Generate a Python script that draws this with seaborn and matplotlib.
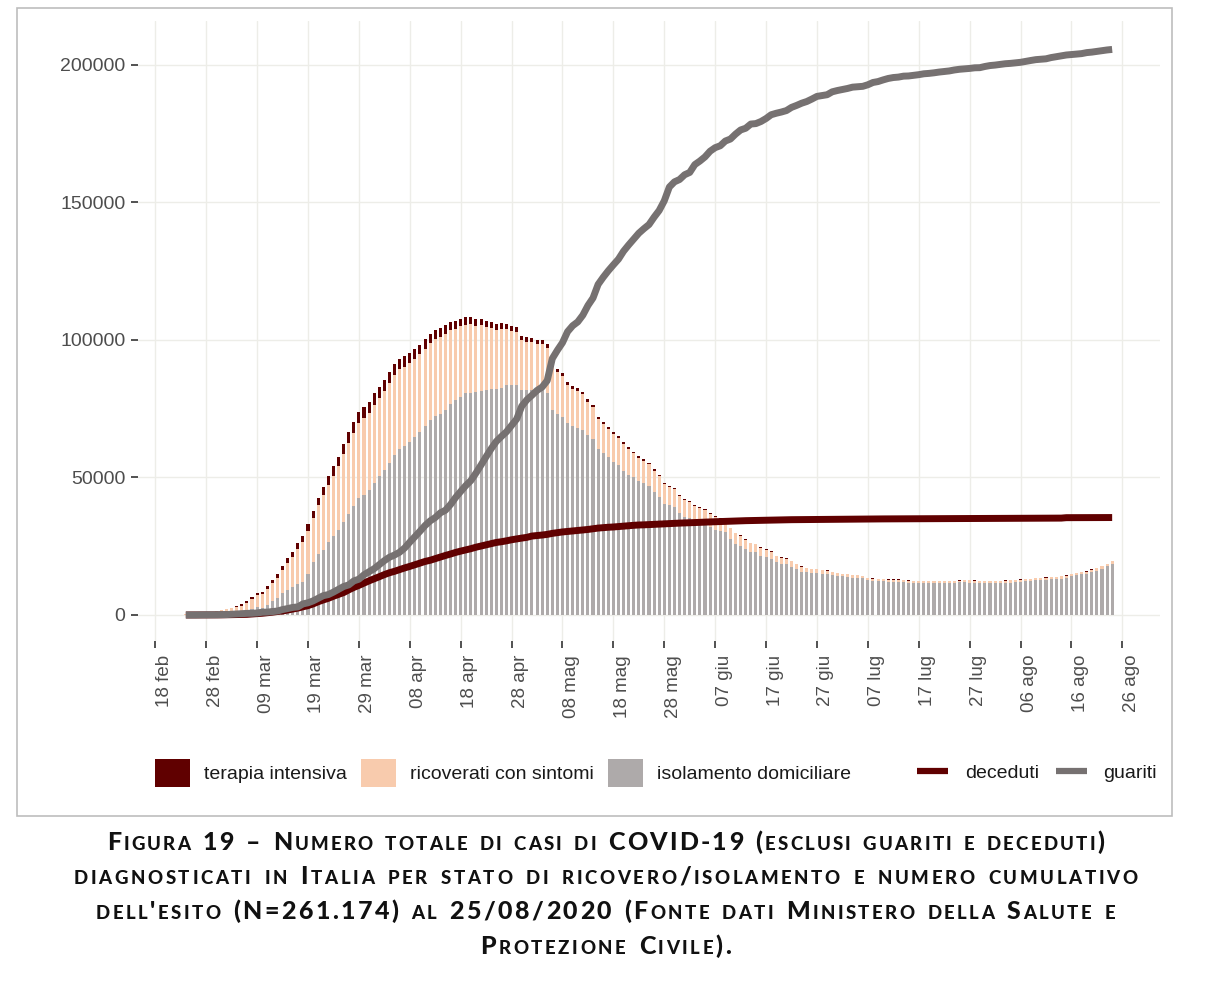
import numpy as np
import pandas as pd
import matplotlib
matplotlib.use("Agg")
import matplotlib.pyplot as plt
import matplotlib.dates as mdates
import matplotlib.transforms as mtransforms
from matplotlib.patches import Patch, Rectangle
from matplotlib.lines import Line2D
import seaborn as sns

# giorni: 24 feb -> 24 ago 2020
first_day = "2020-02-24"
last_day = "2020-08-24"

terapia_intensiva = [
    26, 35, 36, 56, 64, 105,
    140, 166, 229, 295, 351, 462, 567, 650, 733, 877, 1028, 1153, 1328, 1518, 1672, 1851, 2060, 2257, 2498, 2655,
    2857, 3009, 3204, 3396, 3489, 3612, 3732, 3856, 3906, 3981, 4023,
    4035, 4053, 4068, 3994, 3977, 3898, 3792, 3693, 3605, 3497, 3381, 3343, 3260, 3186, 3079, 2936, 2812, 2733, 2635,
    2573, 2471, 2384, 2267, 2173, 2102, 2009, 1956, 1863, 1795, 1694,
    1578, 1539, 1501, 1479, 1427, 1333, 1311, 1168, 1034, 1027, 999, 952, 893, 855, 808, 775, 762, 749, 716, 676,
    640, 595, 572, 553, 541, 521, 505, 489, 450, 435, 424,
    408, 353, 338, 316, 293, 287, 283, 263, 249, 236, 227, 220, 209, 207, 168, 163, 152, 148, 143, 127,
    115, 107, 103, 97, 94, 87, 79, 76, 77, 71,
    82, 77, 71, 72, 69, 68, 71, 69, 65, 64, 65, 65, 60, 57, 57, 56, 54, 54, 49, 48,
    49, 48, 49, 44, 41, 45, 46, 41, 40, 41, 41,
    42, 42, 41, 41, 43, 45, 49, 44, 42, 45, 48, 49, 55, 56, 55, 58, 56, 57, 58, 66, 68, 69, 65, 64,
]
ricoverati_con_sintomi = [
    101, 114, 128, 248, 345, 401,
    639, 742, 1034, 1346, 1790, 2394, 2651, 3557, 4316, 5038, 5838, 6650, 7426, 8372, 9663, 11025, 12894, 14363,
    15757, 16020, 17708, 19846, 20692, 21937, 23112, 24753, 26029, 26676, 27386, 27795, 28192,
    28403, 28540, 28741, 29010, 28949, 28976, 28718, 28485, 28399, 28242, 28144, 27847, 28023, 28011, 27643, 26893,
    26033, 25786, 25007, 24906, 24134, 23805, 22871, 22068, 21533, 21372, 20353, 19723, 19210, 18149,
    17569, 17357, 17242, 16823, 16270, 15769, 15174, 14636, 13834, 13618, 13539, 12865, 12172, 11453, 10792, 10400,
    10311, 10207, 9991, 9624, 9269, 8695, 8613, 8185, 7917, 7729, 7379, 7094, 6680, 6387, 6099,
    5916, 5742, 5301, 5002, 4864, 4729, 4581, 4320, 4131, 3893, 3747, 3594, 3301, 3110, 2974, 2800, 2657, 2474,
    2282, 2159, 2060, 1967, 1877, 1744, 1532, 1515, 1414, 1358, 1177, 1090,
    1025, 979, 956, 938, 925, 895, 889, 856, 833, 804, 801, 790, 774, 765, 756, 743, 729, 718, 731, 734,
    748, 749, 750, 736, 714, 713, 746, 747, 745, 718, 723,
    732, 738, 749, 793, 784, 794, 808, 790, 779, 796, 801, 822, 843, 828, 787, 764, 794, 811, 843, 866,
    897, 926, 941, 988,
]
isolamento_domiciliare = [
    94, 162, 221, 284, 412, 543,
    798, 927, 1000, 1065, 1155, 1060, 1843, 2180, 2936, 2599, 3724, 5036, 6201, 7860, 9268, 10197, 11108, 12090,
    14935, 19185, 22116, 23783, 26522, 28697, 30920, 33648, 36653, 39533, 42588, 43752, 45420,
    48134, 50456, 52579, 55270, 58320, 60313, 61557, 63084, 64873, 66534, 68744, 71063, 72333, 73094, 74696, 76778,
    78117, 79252, 80615, 80758, 81104, 81510, 81710, 82286, 82212, 82722, 83504, 83619, 83652, 81708,
    81796, 81808, 81436, 81678, 80770, 74426, 73139, 72157, 69974, 68679, 67950, 67449, 65392, 64132, 60470, 59012,
    57278, 55597, 54422, 52452, 51051, 50032, 48567, 47856, 46842, 44692, 43082, 40403, 39887, 39353, 37168,
    35751, 35272, 34254, 33979, 33272, 31960, 31013, 30679, 30350, 27581, 25899, 25183, 23975, 22957, 22767, 21606,
    21116, 20479, 19118, 18686, 18462, 17499, 16675, 15797, 15622, 15234, 15188, 15062, 14994, 14402,
    14148, 14004, 13857, 13632, 13627, 13279, 12635, 12378, 12281, 12289, 12053, 12087, 12085, 11915, 11768, 11657,
    11710, 11632, 11588, 11466, 11504, 11525, 11643, 11702, 11826, 11858, 11817, 11793, 11619, 11697, 11658,
    11683, 11702, 11775, 11782, 11903, 12085, 12259, 12429, 12547, 12659, 12801, 12929, 13052, 13216, 13558, 14078,
    14450, 14732, 14949, 15668, 16135, 16805, 17694, 18548,
]
deceduti = [
    7, 10, 12, 17, 21, 29,
    34, 52, 79, 107, 148, 197, 233, 366, 463, 631, 827, 1016, 1266, 1441, 1809, 2158, 2503, 2978, 3405, 4032,
    4825, 5476, 6077, 6820, 7503, 8165, 9134, 10023, 10779, 11591, 12428,
    13155, 13915, 14681, 15362, 15887, 16523, 17127, 17669, 18279, 18849, 19468, 19899, 20465, 21067, 21645, 22170,
    22745, 23227, 23660, 24114, 24648, 25085, 25549, 25969, 26384, 26644, 26977, 27359, 27682, 27967,
    28236, 28710, 28884, 29079, 29315, 29684, 29958, 30201, 30395, 30560, 30739, 30911, 31106, 31368, 31610, 31763,
    31908, 32007, 32169, 32330, 32486, 32616, 32735, 32785, 32877, 32955, 33072, 33142, 33229, 33340, 33415,
    33475, 33530, 33601, 33689, 33774, 33846, 33899, 33964, 34043, 34114, 34167, 34223, 34301, 34345, 34371, 34405,
    34448, 34514, 34561, 34610, 34634, 34657, 34675, 34678, 34708, 34716, 34738, 34744, 34767, 34788,
    34818, 34833, 34854, 34861, 34869, 34899, 34914, 34926, 34938, 34945, 34954, 34967, 34984, 34997, 35017, 35028,
    35042, 35045, 35058, 35073, 35082, 35092, 35097, 35102, 35107, 35112, 35123, 35129, 35132, 35141, 35146,
    35154, 35166, 35171, 35181, 35187, 35190, 35203, 35205, 35209, 35215, 35225, 35231, 35234, 35234, 35392, 35396,
    35400, 35405, 35412, 35418, 35427, 35430, 35437, 35441,
]
guariti = [
    1, 1, 3, 45, 46, 50,
    83, 149, 160, 276, 414, 523, 589, 622, 724, 1004, 1045, 1258, 1439, 1966, 2335, 2749, 2941, 4025, 4440, 5129,
    6072, 7024, 7432, 8326, 9362, 10361, 10950, 12384, 13030, 14620, 15729,
    16847, 18278, 19758, 20996, 21815, 22837, 24392, 26491, 28470, 30455, 32534, 34211, 35435, 37130, 38092, 40164,
    42727, 44927, 47055, 48877, 51600, 54543, 57576, 60498, 63120, 64928, 66624, 68941, 71252, 75945,
    78249, 79914, 81654, 82879, 85231, 93245, 96276, 99023, 103031, 105186, 106587, 109039, 112541, 115288, 120205,
    122810, 125176, 127326, 129401, 132282, 134560, 136720, 138840, 140479, 141981, 144658, 147101, 150604, 155633,
    157507, 158355,
    160092, 160938, 163781, 165078, 166584, 168646, 169939, 170630, 172352, 173085, 174865, 176370, 177010, 178526,
    178695, 179455, 180544, 181907, 182453, 182893, 183426, 184585, 185306, 186111, 186725, 187615, 188584, 188891,
    189196, 190248,
    190717, 191083, 191467, 191944, 192108, 192241, 192815, 193640, 193978, 194579, 195106, 195441, 195603, 195945,
    196016, 196246, 196483, 196806, 196949, 197162, 197431, 197628, 197842, 198192, 198446, 198593, 198756, 198984,
    199031, 199460, 199796,
    199974, 200229, 200460, 200589, 200766, 200976, 201323, 201642, 201947, 202098, 202248, 202697, 203022, 203326,
    203640, 203786, 203968, 204142, 204506, 204686, 204960, 205203, 205470, 205662,
]

tick_labels = ["18 feb", "28 feb", "09 mar", "19 mar", "29 mar", "08 apr", "18 apr", "28 apr", "08 mag",
               "18 mag", "28 mag", "07 giu", "17 giu", "27 giu", "07 lug", "17 lug", "27 lug", "06 ago",
               "16 ago", "26 ago"]
y_ticks = [0, 50000, 100000, 150000, 200000]

stati = ["terapia intensiva", "ricoverati con sintomi", "isolamento domiciliare"]
esiti = ["deceduti", "guariti"]
colori_stati = ["#600000", "#F8CBAD", "#AEAAAA"]
colori_esiti = ["#600000", "#767171"]

caption_lines = [
    "Figura 19 – Numero totale di casi di COVID-19 (esclusi guariti e deceduti)",
    "diagnosticati in Italia per stato di ricovero/isolamento e numero cumulativo",
    "dell'esito (N=261.174) al 25/08/2020 (Fonte dati Ministero della Salute e",
    "Protezione Civile).",
]
caption_widths = [997, 1064, 1019, 251]

W, H = 1218, 992

giorni = mdates.date2num(pd.date_range(first_day, last_day, freq="D"))
tick_pos = mdates.date2num(pd.date_range("2020-02-18", periods=len(tick_labels), freq="10D"))

bars = pd.DataFrame({
    "giorno": np.tile(giorni, 3),
    "stato": np.repeat(stati, len(giorni)),
    "casi": np.concatenate([terapia_intensiva, ricoverati_con_sintomi, isolamento_domiciliare]),
})
lines = pd.DataFrame({
    "giorno": np.tile(giorni, 2),
    "esito": np.repeat(esiti, len(giorni)),
    "casi": np.concatenate([deceduti, guariti]),
})

sns.set_theme(style="white")
plt.rcParams["font.family"] = ["Liberation Sans", "DejaVu Sans"]

fig = plt.figure(figsize=(W / 100, H / 100), dpi=100)
ax = fig.add_axes([138 / W, 1 - 641 / H, (1160 - 138) / W, (641 - 21) / H])

sns.histplot(data=bars, x="giorno", weights="casi", hue="stato", hue_order=stati,
             palette=colori_stati, multiple="stack", discrete=True, shrink=0.6,
             alpha=1, linewidth=0, legend=False, ax=ax)
sns.lineplot(data=lines, x="giorno", y="casi", hue="esito", hue_order=esiti,
             palette=colori_esiti, linewidth=5, solid_capstyle="butt", legend=False, ax=ax)

ax.set_xlim(tick_pos[0] - 3.4, tick_pos[0] + 197.4)
ax.set_ylim(-9455, 216000)
ax.set_xlabel("")
ax.set_ylabel("")
ax.set_axisbelow(True)
ax.grid(True, color="#EDEDE8", linewidth=1)
for s in ax.spines.values():
    s.set_visible(False)

ax.set_xticks(tick_pos, labels=tick_labels, rotation=90)
ax.set_yticks(y_ticks, labels=[str(v) for v in y_ticks])
ax.tick_params(axis="both", length=5, width=1.2, color="#333333", labelcolor="#4D4D4D", bottom=True, left=True)
ax.tick_params(axis="x", labelsize=13.5, pad=5)
ax.tick_params(axis="y", labelsize=14, pad=4)
shift = mtransforms.ScaledTranslation(9 / 100, 0, fig.dpi_scale_trans)
for lab in ax.get_xticklabels():
    lab.set_transform(lab.get_transform() + shift)

# legende
fill_handles = [Patch(facecolor=c, edgecolor="none") for c in colori_stati]
fig.legend(fill_handles, stati, loc="center", bbox_to_anchor=(503 / W, 1 - 773 / H), ncol=3,
           frameon=False, fontsize=14, handlelength=1.8, handleheight=1.8,
           handletextpad=0.75, columnspacing=0.7, labelcolor="#1A1A1A")
line_handles = [Line2D([], [], color=c, lw=4.5, solid_capstyle="butt") for c in colori_esiti]
fig.legend(line_handles, esiti, loc="center", bbox_to_anchor=(1037 / W, 1 - 773 / H), ncol=2,
           frameon=False, fontsize=14, handlelength=1.6, handletextpad=0.85,
           columnspacing=0.85, labelcolor="#1A1A1A")

fig.add_artist(Rectangle((17 / W, 1 - 816 / H), (1172 - 17) / W, (816 - 8) / H,
                         transform=fig.transFigure, fill=False, edgecolor="#BDBDBD", lw=1.2))

# didascalia in maiuscoletto, lettera per lettera per avere la larghezza giusta
renderer = fig.canvas.get_renderer()


def smallcaps_line(text, y_px, target_w, big=18, small=13.4, center=605.5):
    space = 0.22 * big * 100 / 72
    items = []
    for ch in text:
        if ch == " ":
            items.append((None, space))
            continue
        t = fig.text(0, 1 - y_px / H, ch.upper(), fontsize=small if ch.islower() else big,
                     family=["Lato", "DejaVu Sans"], fontweight="black",
                     color="#111111", ha="left", va="baseline")
        items.append((t, t.get_window_extent(renderer).width))
    # ogni spazio conta come tre intervalli tra lettere
    gaps = sum(1 for a, b in zip(items, items[1:]) if a[0] is not None and b[0] is not None)
    spaces = sum(1 for t, _ in items if t is None)
    natural = sum(w for _, w in items)
    track = max((target_w - natural) / max(gaps + 3 * spaces, 1), 0.3)
    x = 0
    placed = []
    for i, (t, w) in enumerate(items):
        if t is not None:
            placed.append((t, x))
            x += w
            if i + 1 < len(items) and items[i + 1][0] is not None:
                x += track
        else:
            x += w + 3 * track
    left = center - x / 2
    for t, px in placed:
        t.set_x((left + px) / W)


for i, line in enumerate(caption_lines):
    smallcaps_line(line, 850 + i * 34.5, caption_widths[i])

fig.savefig("out.png", dpi=100)
